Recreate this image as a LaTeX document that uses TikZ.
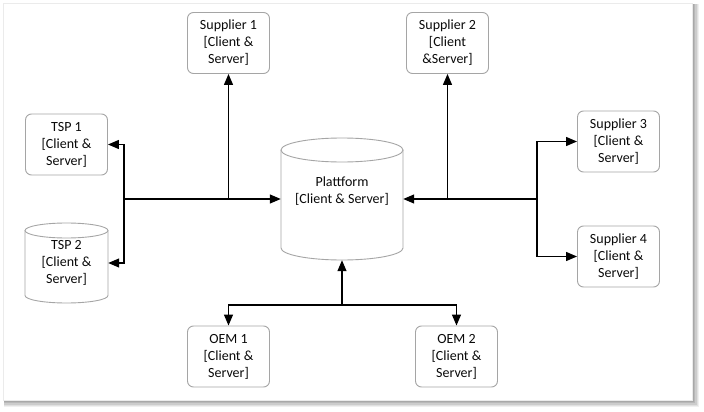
\documentclass[tikz,border=0pt]{standalone}
\usepackage{fontspec}
\setmainfont{Carlito}
\usetikzlibrary{arrows.meta}
\definecolor{boxgray}{RGB}{165,165,165}
\definecolor{txt}{RGB}{10,10,10}
\newcommand{\lblfont}{\fontsize{14}{17}\selectfont}
\begin{document}
\begin{tikzpicture}[x=1pt,y=-1pt,
  box/.style={draw=boxgray, line width=0.9pt, rounded corners=6pt, minimum width=82pt, minimum height=61pt, inner sep=0pt, align=center, font=\lblfont, text=txt},
  cylnode/.style={inner sep=0pt, align=center, font=\lblfont, text=txt},
  cylline/.style={draw=boxgray, line width=0.9pt, fill=white},
  conn/.style={line width=1.3pt, -{Triangle[length=11pt,width=9pt]}},
  wire/.style={line width=1.3pt}
]
\useasboundingbox (0,0) rectangle (704,412);
% page with shadow
\fill[black!6] (4,4) rectangle (699,407);
\fill[black!12] (4,4) rectangle (698,406);
\fill[black!20] (4,4) rectangle (697,405);
\fill[black!28] (4,4) rectangle (695,403);
\fill[black!34] (4,4) rectangle (694,402);
\filldraw[fill=white, draw=black!8, line width=0.5pt] (3,3) rectangle (692,400);

% cylinders
\draw[cylline] (281,150) -- (281,248) arc[start angle=180,end angle=360,x radius=61pt,y radius=12pt] -- (403,150);
\draw[cylline] (342,150) ellipse[x radius=61pt,y radius=12pt];
\draw[cylline] (25,230.5) -- (25,295.5) arc[start angle=180,end angle=360,x radius=41.5pt,y radius=7.5pt] -- (108,230.5);
\draw[cylline] (66.5,230.5) ellipse[x radius=41.5pt,y radius=7.5pt];

% nodes
\node[cylnode, minimum width=122pt, minimum height=122pt] (plat) at (342,199) {Plattform\\{}[Client \& Server]\\\mbox{}};
\node[cylnode, minimum width=83pt, minimum height=80pt] (tsp2) at (66.5,263) {TSP 2\\{}[Client \&\\Server]};
\node[box] (tsp1) at (66.5,144.5) {TSP 1\\{}[Client \&\\Server]};
\node[box] (sup1) at (228.5,43) {Supplier 1\\{}[Client \&\\Server]};
\node[box] (sup2) at (447.5,43) {Supplier 2\\{}[Client\\\&Server]};
\node[box] (sup3) at (618.5,141.5) {Supplier 3\\{}[Client \&\\Server]};
\node[box] (sup4) at (618.5,256.5) {Supplier 4\\{}[Client \&\\Server]};
\node[box] (oem1) at (228.5,356.5) {OEM 1\\{}[Client \&\\Server]};
\node[box] (oem2) at (456.5,356.5) {OEM 2\\{}[Client \&\\Server]};

% junctions
\coordinate (jl) at (124,199);
\coordinate (j1) at (228.5,199);
\coordinate (jr) at (537,199);
\coordinate (j2) at (447.5,199);
\coordinate (jb) at (342,305);

% connectors
\draw[conn] (jl) -- (plat.west);
\draw[conn] (jl) |- (tsp1.east);
\draw[conn] (jl) |- (tsp2.east);
\draw[conn] (j1) -- (sup1.south);
\draw[conn] (jr) -- (plat.east);
\draw[conn] (j2) -- (sup2.south);
\draw[conn] (jr) |- (sup3.west);
\draw[conn] (jr) |- (sup4.west);
\draw[conn] (jb) -- (plat.south);
\draw[conn] (jb) -| (oem1.north);
\draw[conn] (jb) -| (oem2.north);
\end{tikzpicture}
\end{document}
